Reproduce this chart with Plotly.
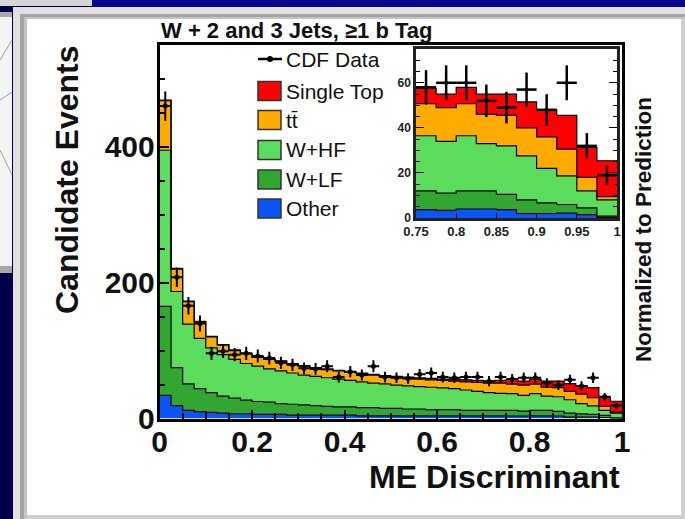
import numpy as np
import plotly.graph_objects as go

# ---------------- data (40 bins of width 0.025 on the ME discriminant) ----------------
bin_edges = np.round(np.linspace(0.0, 1.0, 41), 4)

other = [34, 19, 12, 10, 9, 8, 7, 7, 6, 6, 6, 5, 5, 5, 5, 5, 5, 4, 4, 4,
         4, 4, 4, 4, 4, 4, 4, 4, 4, 4,
         3.7, 3.4, 4, 4, 3.7, 2, 2, 2.2, 1.5, 0.3]
w_lf = [131, 56, 39, 34, 29, 25, 23, 20, 19, 18, 16, 16, 15, 14, 13, 12, 12, 12, 12, 11,
        11, 10, 10, 9, 9, 9, 8, 8, 8, 8,
        8.3, 7.6, 8, 8, 6.8, 6, 4.7, 3.8, 3, 0.5]
w_hf = [230, 112, 88, 74, 66, 61, 57, 54, 52, 49, 48, 46, 44, 43, 42, 41, 39, 38, 36, 36,
        34, 34, 33, 33, 32, 31, 30, 28, 26, 25,
        24.5, 23, 24.5, 21, 21.5, 19.6, 15.3, 12.7, 7.5, 7.2]
ttbar = [73, 33, 33, 24, 16, 14, 13, 14, 13, 14, 14, 13, 13, 12, 12, 12, 12, 12, 12, 11,
         11, 11, 11, 11, 11, 11, 12, 13, 14, 15,
         14.2, 15, 14.2, 13, 13.5, 12.4, 14, 11.9, 6, 1.5]
single_top = [1, 1, 1, 1, 1, 1, 1, 1, 1, 1, 1, 1, 1, 1, 1, 1, 1, 1, 1, 1,
              2, 2, 2, 2, 2, 3, 3, 3, 3, 4,
              6.8, 6, 7.3, 9, 9.5, 11.5, 12, 14.9, 13.3, 15.9]
cdf_data = [460, 208, 166, 140, 96, 99, 94, 96, 92, 89, 82, 79, 74, 73, 77, 61, 69, 64, 77, 61,
            60, 59, 65, 67, 61, 60, 61, 61, 55, 61,
            58, 60, 60, 52, 49, 57, 48, 60, 32, 19]

component_names = ["Other", "W+LF", "W+HF", "tt\u0304", "Single Top"]
component_colors = ["#0a55f5", "#31a631", "#5cdc5c", "#ffab00", "#ff0000"]
inset_first_bin = 30   # inset shows the last 10 bins (0.75 - 1.0)

# ---------------- geometry helpers (pixel -> paper) ----------------
W, H = 685, 519
def PX(x):
    return x / W
def PY(y):
    return 1 - y / H

FONT = "Liberation Sans, Arial, sans-serif"

fig = go.Figure()

stack = np.cumsum(np.array([other, w_lf, w_hf, ttbar, single_top], dtype=float), axis=0)

def steps(vals):
    v = list(vals)
    return v + [v[-1]]

# main stacked histogram
for i, col in enumerate(component_colors):
    fig.add_trace(go.Scatter(
        x=bin_edges, y=steps(stack[i]), mode="lines",
        line=dict(shape="hv", color="black", width=1.2),
        fill="tozeroy" if i == 0 else "tonexty", fillcolor=col,
        showlegend=False, hoverinfo="skip", xaxis="x", yaxis="y"))

centers = (bin_edges[:-1] + bin_edges[1:]) / 2
data_arr = np.array(cdf_data, dtype=float)
fig.add_trace(go.Scatter(
    x=centers, y=data_arr, mode="markers",
    marker=dict(size=5, color="black"),
    error_y=dict(type="data", array=np.sqrt(data_arr), width=0, thickness=2, color="black"),
    error_x=dict(type="constant", value=0.0125, width=0, thickness=2, color="black"),
    showlegend=False, xaxis="x", yaxis="y"))

# inset stacked histogram
s = inset_first_bin
for i, col in enumerate(component_colors):
    fig.add_trace(go.Scatter(
        x=bin_edges[s:], y=steps(stack[i][s:]), mode="lines",
        line=dict(shape="hv", color="black", width=1.2),
        fill="tozeroy" if i == 0 else "tonexty", fillcolor=col,
        showlegend=False, hoverinfo="skip", xaxis="x2", yaxis="y2"))

fig.add_trace(go.Scatter(
    x=centers[s:], y=data_arr[s:], mode="markers",
    marker=dict(size=4, color="black"),
    error_y=dict(type="data", array=np.sqrt(data_arr[s:]), width=0, thickness=2.5, color="black"),
    error_x=dict(type="constant", value=0.0125, width=0, thickness=2.5, color="black"),
    showlegend=False, xaxis="x2", yaxis="y2"))

# ---------------- background / slide frame ----------------
shapes = []
def rect(x0, y0, x1, y1, fill, line=None, lw=0, layer="below"):
    shapes.append(dict(type="rect", xref="paper", yref="paper",
                       x0=PX(x0), x1=PX(x1), y0=PY(y1), y1=PY(y0),
                       fillcolor=fill, line=dict(color=line or fill, width=lw), layer=layer))

def seg(x0, y0, x1, y1, col, lw=1, layer="below"):
    shapes.append(dict(type="line", xref="paper", yref="paper",
                       x0=PX(x0), x1=PX(x1), y0=PY(y0), y1=PY(y1),
                       line=dict(color=col, width=lw), layer=layer))

rect(92, 0, 685, 7, "#08088c")
rect(0, 0, 92, 6, "#d4d4d4")
rect(0, 12, 12, 17, "#a8a8a8")
rect(0, 17, 12, 266, "#f4f4f4")
rect(0, 266, 12, 273, "#a8a8a8")
seg(0, 60, 12, 40, "#9aa0b0")
seg(0, 150, 12, 175, "#9aa0b0")
seg(0, 100, 12, 92, "#6aa0e0")
rect(13, 7, 685, 519, "#e0e0e0")
rect(20, 14, 685, 519, "#a4a4a4")
rect(24, 17, 685, 519, "#c4c4c4")
rect(27, 19, 681, 515, "#ffffff")
rect(681, 19, 685, 519, "#d0d0d0")
rect(27, 515, 681, 519, "#d0d0d0")

# legend
def legend_box(yc, col):
    rect(258, yc - 9.5, 281, yc + 9.5, col, "#333333", 1.5, layer="above")

seg(258, 59, 282, 59, "black", 2.5, layer="above")
shapes.append(dict(type="circle", xref="paper", yref="paper",
                   x0=PX(267), x1=PX(273), y0=PY(62), y1=PY(56),
                   fillcolor="black", line=dict(color="black", width=0), layer="above"))

legend_rows = [("CDF Data", 59, None)]
row_y = [91, 120, 150, 179.5, 208.5]
order = [4, 3, 2, 1, 0]
for yc, idx in zip(row_y, order):
    legend_box(yc, component_colors[idx])
    legend_rows.append((component_names[idx], yc, component_colors[idx]))

annotations = []
for label, yc, _ in legend_rows:
    annotations.append(dict(text=label, xref="paper", yref="paper", x=PX(284), y=PY(yc),
                            xanchor="left", yanchor="middle", showarrow=False,
                            font=dict(family=FONT, size=21, color="#111111")))

annotations.append(dict(text="W + 2 and 3 Jets, \u22651 b Tag", xref="paper", yref="paper",
                        x=PX(159), y=PY(31), xanchor="left", yanchor="middle", showarrow=False,
                        font=dict(family=FONT, size=22, color="#111111", weight="bold")))
annotations.append(dict(text="Candidate Events", xref="paper", yref="paper",
                        x=PX(67), y=PY(180), xanchor="center", yanchor="middle", textangle=-90,
                        showarrow=False, font=dict(family=FONT, size=32, color="#111111", weight="bold")))
annotations.append(dict(text="ME Discriminant", xref="paper", yref="paper",
                        x=PX(622), y=PY(477), xanchor="right", yanchor="middle",
                        showarrow=False, font=dict(family=FONT, size=32, color="#111111", weight="bold")))
annotations.append(dict(text="Normalized to Prediction", xref="paper", yref="paper",
                        x=PX(643), y=PY(230), xanchor="center", yanchor="middle", textangle=-90,
                        showarrow=False, font=dict(family=FONT, size=22.5, color="#111111", weight="bold")))

tickfont_big = dict(family=FONT, size=30, color="#111111", weight="bold")

fig.update_layout(
    width=W, height=H, margin=dict(l=0, r=0, t=0, b=0, pad=0, autoexpand=False),
    paper_bgcolor="#00004a", plot_bgcolor="white",
    showlegend=False, shapes=shapes, annotations=annotations,
    xaxis=dict(domain=[PX(159.5), PX(622)], range=[0, 1], anchor="y", automargin=False,
               showline=True, mirror=True, linecolor="black", linewidth=2.5,
               ticks="inside", ticklen=9, tickwidth=1.5, tickcolor="black", ticklabelstandoff=-5,
               tick0=0, dtick=0.2, minor=dict(dtick=0.05, ticks="inside", ticklen=6, tickcolor="black"),
               tickfont=tickfont_big, showgrid=False, zeroline=False),
    yaxis=dict(domain=[PY(418.5), PY(45)], range=[0, 550], anchor="x", automargin=False,
               showline=True, mirror=True, linecolor="black", linewidth=2.5,
               ticks="inside", ticklen=10, tickwidth=1.5, tickcolor="black", ticklabelstandoff=-4,
               tick0=0, dtick=200, minor=dict(dtick=50, ticks="inside", ticklen=6, tickcolor="black"),
               tickfont=tickfont_big, showgrid=False, zeroline=False),
    xaxis2=dict(domain=[PX(416), PX(617)], range=[0.75, 1.0], anchor="y2", automargin=False,
                showline=True, mirror=True, linecolor="#222222", linewidth=2.5,
                ticks="inside", ticklen=5, tickcolor="black", dtick=0.05, tick0=0.75,
                tickfont=dict(family=FONT, size=13, color="#222222", weight="bold"),
                showgrid=False, zeroline=False),
    yaxis2=dict(domain=[PY(218), PY(49)], range=[0, 75], anchor="x2", automargin=False,
                showline=True, mirror="ticks", linecolor="#222222", linewidth=2.5,
                ticks="inside", ticklen=8, tickcolor="black", dtick=20, tick0=0,
                minor=dict(dtick=5, ticks="inside", ticklen=4, tickcolor="black"),
                tickfont=dict(family=FONT, size=12, color="#222222", weight="bold"),
                showgrid=False, zeroline=False),
)

fig.write_html("out.html")
